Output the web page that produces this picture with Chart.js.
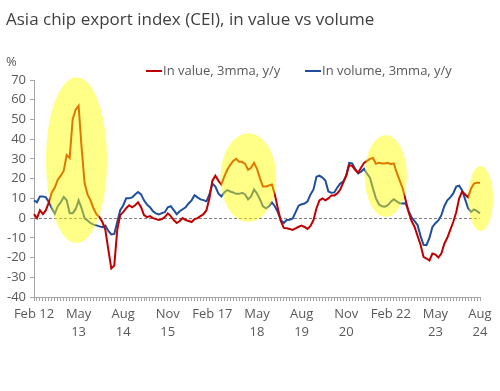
<!DOCTYPE html>
<html>
<head>
<meta charset="utf-8">
<title>Asia chip export index</title>
<script src="https://cdn.jsdelivr.net/npm/chart.js"></script>
<style>
  body { margin: 0; background: #fff; }
  #wrap { width: 500px; height: 391px; }
</style>
</head>
<body>
<div id="wrap"><canvas id="cei" width="500" height="391"></canvas></div>
<script>
    // monthly, Feb 2012 .. Aug 2024
    const monthNames = ['Jan','Feb','Mar','Apr','May','Jun','Jul','Aug','Sep','Oct','Nov','Dec'];
    const months = [];
    for (let i = 0; i < 151; i++) {
        const m = (1 + i) % 12, y = 12 + Math.floor((1 + i) / 12);
        months.push(monthNames[m] + ' ' + y);
    }

    const tickEvery = 15;
    const tickLabels = ['Feb 12', ['May', '13'], ['Aug', '14'], ['Nov', '15'], 'Feb 17', ['May', '18'],
        ['Aug', '19'], ['Nov', '20'], 'Feb 22', ['May', '23'], ['Aug', '24']];

    const valueYY = [
        2, 0, 4, 2, 4, 8, 13, 15.5, 19.5, 21.5,
        24, 32, 30.5, 50, 55, 57, 36, 18, 12, 9,
        5, 2, 0.5, -2, -6, -16, -25.5, -24, -6, 1.5,
        3, 5, 6.5, 5.5, 6.5, 8, 5.5, 1.5, 0.5, 1,
        0, -0.5, -1, -0.5, 0.5, 2.4, 1, -1, -2.5, -1.5,
        0, -1, -1.5, -2, -0.5, 0, 1, 2, 4, 10,
        19, 21.5, 19, 17, 21, 24.5, 27, 29, 30, 28.5,
        28.5, 27.5, 24.5, 25.5, 28, 25, 20, 16, 16, 16.5,
        17, 12, 5, -1.5, -5, -5.2, -5.5, -6, -5.2, -4.4,
        -3.8, -4.5, -5.5, -4, -1, 5, 9, 10, 9, 10,
        11.5, 11.5, 12.5, 14.5, 18, 21.5, 26.8, 26.5, 24.5, 23,
        25.5, 28, 29, 30, 30.5, 27.5, 28, 27.7, 27.7, 28,
        27.3, 27.7, 23, 19, 15, 9, 3, -1.5, -4.5, -9,
        -13.5, -19.6, -20.5, -21.5, -18, -18.5, -20, -18, -13, -10,
        -6, -2, 3, 10, 13.5, 12, 10.5, 15, 17.5, 17.9,
        17.9
    ];

    const volumeYY = [
        9, 8, 11, 11, 10.5, 8, 5, 2.2, 6, 8,
        10.7, 9, 2.5, 2.5, 4.5, 9, 5, 0, -1.2, -2.5,
        -3.3, -3.7, -4.2, -4.6, -3.8, -6.5, -8.3, -8, -2, 4,
        6.4, 10, 10, 10.5, 12, 13.2, 12, 9, 6.8, 5.5,
        3.5, 2.4, 1.9, 2.5, 3, 5.5, 6, 4, 2, 3.5,
        4.5, 5.5, 7.4, 9, 11.6, 10.5, 9.5, 9.1, 8.5, 12,
        17.5, 16, 12.5, 11, 13, 14.2, 13.5, 13, 12.3, 12.3,
        12.8, 12, 9.5, 11, 14.5, 12.5, 9.5, 6, 5, 6,
        8, 6, 3, -1, -2.5, -1, -0.8, -0.2, 3, 6.3,
        7, 7.4, 8.5, 12, 14.5, 21, 21.5, 20.5, 19, 13.5,
        12.8, 13, 15.5, 17.5, 18.5, 21.5, 28, 27.7, 25, 22.6,
        23.5, 25, 22.5, 20.5, 15, 10, 7, 6, 5.8, 6.5,
        8.3, 9.6, 8.5, 7.5, 7.4, 7.5, 3.5, 0.3, -1.5, -3.5,
        -9, -13.5, -13.7, -10, -4.5, -2.6, -1.2, 1.5, 6, 9,
        10.5, 12.5, 16, 16.4, 14, 9.5, 5, 3.2, 4.4, 3.5,
        2.4
    ];

    // highlighted periods: centre (month index, %) and radii (months, %)
    const hlMonth = [14.3, 72.1, 118.3, 150.2];
    const hlValue = [29.4, 20.5, 21.3, 9.9];
    const hlMonthR = [10.3, 9.4, 7.1, 4.2];
    const hlValueR = [42, 22.5, 20.8, 16.5];

    const txtColor = '#595959';
    const axisColor = '#a6a6a6';
    const fontFamily = '"Open Sans", sans-serif';

    const overlay = {
        id: 'overlay',
        beforeDatasetsDraw(chart) {
            const {ctx, chartArea, scales} = chart;
            const y0 = scales.y.getPixelForValue(0);
            ctx.save();
            ctx.strokeStyle = '#808080';
            ctx.lineWidth = 1;
            ctx.setLineDash([3, 2]);
            ctx.beginPath();
            ctx.moveTo(chartArea.left, Math.round(y0) + 0.5);
            ctx.lineTo(chartArea.right, Math.round(y0) + 0.5);
            ctx.stroke();
            ctx.restore();
        },
        afterDatasetsDraw(chart) {
            const {ctx, scales} = chart;
            ctx.save();
            ctx.fillStyle = 'rgba(255, 255, 0, 0.47)';
            for (let k = 0; k < hlMonth.length; k++) {
                const cx = scales.x.getPixelForValue(hlMonth[k]);
                const cy = scales.y.getPixelForValue(hlValue[k]);
                const rx = scales.x.getPixelForValue(hlMonth[k] + hlMonthR[k]) - cx;
                const ry = cy - scales.y.getPixelForValue(hlValue[k] + hlValueR[k]);
                ctx.beginPath();
                ctx.ellipse(cx, cy, rx, ry, 0, 0, Math.PI * 2);
                ctx.fill();
            }
            ctx.restore();
        },
        afterDraw(chart) {
            const ctx = chart.ctx;
            ctx.save();
            ctx.textBaseline = 'middle';
            ctx.fillStyle = '#404040';
            ctx.font = '17px ' + fontFamily;
            ctx.fillText('Asia chip export index (CEI), in value vs volume', 6, 20);

            ctx.fillStyle = txtColor;
            ctx.font = '13px ' + fontFamily;
            ctx.fillText('%', 6, 62);

            const legendX = [146, 305];
            chart.data.datasets.forEach((ds, i) => {
                ctx.strokeStyle = ds.borderColor;
                ctx.lineWidth = 2;
                ctx.beginPath();
                ctx.moveTo(legendX[i], 71);
                ctx.lineTo(legendX[i] + 16, 71);
                ctx.stroke();
                ctx.fillStyle = txtColor;
                ctx.fillText(ds.label, legendX[i] + 17, 71);
            });
            ctx.restore();
        }
    };

    const ctx = document.getElementById('cei').getContext('2d');
    const chart = new Chart(ctx, {
        type: 'line',
        data: {
            labels: months,
            datasets: [
                {
                    label: 'In value, 3mma, y/y',
                    data: valueYY,
                    borderColor: '#c00000',
                    borderWidth: 2,
                    pointRadius: 0,
                    tension: 0,
                    fill: false
                },
                {
                    label: 'In volume, 3mma, y/y',
                    data: volumeYY,
                    borderColor: '#1f4e9e',
                    borderWidth: 2,
                    pointRadius: 0,
                    tension: 0,
                    fill: false
                }
            ]
        },
        options: {
            responsive: false,
            animation: false,
            devicePixelRatio: 1,
            layout: {
                padding: {top: 80, left: 0, right: 20, bottom: 0}
            },
            plugins: {
                legend: {display: false},
                title: {display: false},
                tooltip: {enabled: false}
            },
            scales: {
                x: {
                    type: 'category',
                    offset: false,
                    afterFit: s => { s.height = 94; },
                    border: {color: axisColor},
                    grid: {drawOnChartArea: false, drawTicks: true, tickLength: 4, color: axisColor},
                    ticks: {
                        autoSkip: false,
                        maxRotation: 0,
                        padding: 5,
                        color: txtColor,
                        font: {family: fontFamily, size: 13, lineHeight: 1.35},
                        callback: (val, idx) => idx % tickEvery === 0 ? tickLabels[idx / tickEvery] : ''
                    }
                },
                y: {
                    min: -40,
                    max: 70,
                    afterFit: s => { s.width = 34; },
                    border: {color: axisColor},
                    grid: {drawOnChartArea: false, drawTicks: true, tickLength: 4, color: axisColor},
                    ticks: {
                        stepSize: 10,
                        autoSkip: false,
                        padding: 4,
                        color: txtColor,
                        font: {family: fontFamily, size: 13}
                    }
                }
            }
        },
        plugins: [overlay]
    });
</script>
</body>
</html>
